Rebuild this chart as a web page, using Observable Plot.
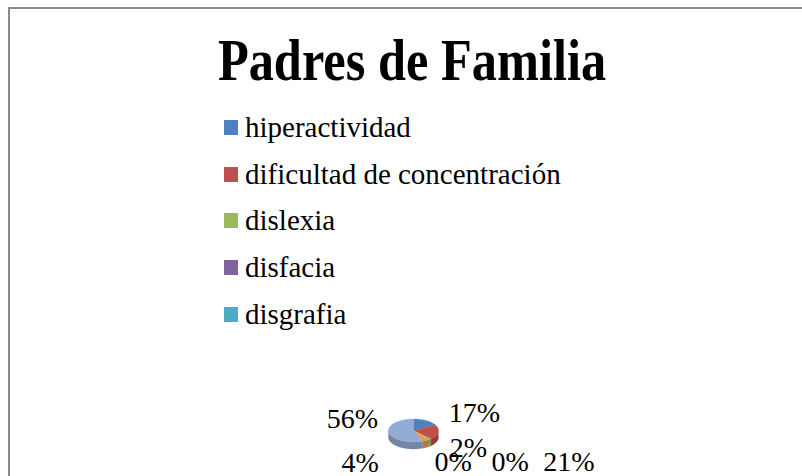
<!DOCTYPE html>
<html>
<head>
<meta charset="utf-8">
<script src="https://cdn.jsdelivr.net/npm/d3@7"></script>
<script src="https://cdn.jsdelivr.net/npm/@observablehq/plot@0.6"></script>
<style>
  html, body { margin: 0; padding: 0; background: #fff; }
  #chart { position: relative; width: 802px; height: 476px; overflow: hidden; background: #fff; font-family: "Liberation Serif", "DejaVu Serif", serif; color: #000; }
  #frame { position: absolute; left: 8px; top: 7px; width: 810px; height: 480px; border-left: 2px solid #8a8a8a; border-top: 2px solid #8a8a8a; box-sizing: border-box; }
  #title { position: absolute; left: 0; width: 824px; top: 30px; text-align: center; font-weight: bold; font-size: 60px; line-height: 60px; transform: scaleX(0.84); transform-origin: 412px 0; white-space: nowrap; }
  #legend { position: absolute; left: 224px; top: 104px; }
  .row { display: flex; align-items: center; height: 46.8px; font-size: 29px; line-height: 29px; white-space: nowrap; }
  .sw { width: 14px; height: 15px; margin-right: 7px; flex: none; }
  #pie { position: absolute; left: 300px; top: 380px; }
</style>
</head>
<body>
<div id="chart">
  <div id="frame"></div>
  <div id="title">Padres de Familia</div>
  <div id="legend"></div>
  <div id="pie"></div>
</div>
<script>
// ---- data ----
const categories = ["hiperactividad", "dificultad de concentración", "dislexia", "disfacia", "disgrafia", "otros", "ninguno"];
const values = [17, 21, 2, 0, 0, 4, 56];
const colors = ["#4F81BD", "#C0504D", "#9BBB59", "#8064A2", "#4BACC6", "#F79646", "#93ACD5"];
const legendCount = 5; // legend shows only the first five entries (rest cut off)
// label nudges (px) from the default outside-anchor of each slice
const labelNudgeX = [37, 109, 25, 12, 69, -76, -15];
const labelNudgeY = [4, 28, -2, 11, 11, 10, -16];

// ---- legend ----
const legend = document.getElementById("legend");
categories.slice(0, legendCount).forEach((c, i) => {
  const row = document.createElement("div");
  row.className = "row";
  const sw = document.createElement("span");
  sw.className = "sw";
  sw.style.background = colors[i];
  const t = document.createElement("span");
  t.textContent = c;
  row.appendChild(sw); row.appendChild(t);
  legend.appendChild(row);
});

// ---- pie geometry (3D tilted) ----
const rx = 25, ry = 11.5, depth = 7;
const arcs = d3.pie().sort(null)(values);
const tops = [], sides = [], labels = [];
arcs.forEach((a, i) => {
  const s = a.startAngle, e = a.endAngle;
  const n = Math.max(2, Math.ceil((e - s) / 0.03));
  if (e > s) {
    tops.push({id: i, x: 0, y: 0, c: colors[i]});
    for (let k = 0; k <= n; k++) {
      const t = s + (e - s) * k / n;
      tops.push({id: i, x: rx * Math.sin(t), y: -ry * Math.cos(t), c: colors[i]});
    }
    const fs = Math.max(s, Math.PI / 2), fe = Math.min(e, 3 * Math.PI / 2);
    if (fe > fs) {
      const m = Math.max(2, Math.ceil((fe - fs) / 0.03));
      const side = d3.color(colors[i]).darker(0.7).formatHex();
      const pts = [];
      for (let k = 0; k <= m; k++) { const t = fs + (fe - fs) * k / m; pts.push([rx * Math.sin(t), -ry * Math.cos(t)]); }
      for (let k = m; k >= 0; k--) { const t = fs + (fe - fs) * k / m; pts.push([rx * Math.sin(t), -ry * Math.cos(t) + depth]); }
      pts.forEach(p => sides.push({id: i, x: p[0], y: p[1], c: side}));
    }
  }
  const mid = (s + e) / 2;
  labels.push({
    text: values[i] + "%",
    x: (rx + 22) * Math.sin(mid) + labelNudgeX[i],
    y: -(ry + 14) * Math.cos(mid) + labelNudgeY[i]
  });
});

const W = 340, H = 96, cx = 113, cy = 50;
const plot = Plot.plot({
  width: W, height: H, margin: 0,
  x: {domain: [-cx, W - cx], range: [0, W], axis: null},
  y: {domain: [-cy, H - cy], range: [0, H], axis: null},
  color: {type: "identity"},
  style: {background: "transparent", overflow: "visible"},
  marks: [
    Plot.line(sides, {x: "x", y: "y", z: "id", fill: "c", stroke: "c", strokeWidth: 0.3, curve: "linear"}),
    Plot.line(tops, {x: "x", y: "y", z: "id", fill: "c", stroke: "c", strokeWidth: 0.3, curve: "linear"}),
    Plot.text(labels, {x: "x", y: "y", text: "text", fill: "#000", fontSize: 28, fontFamily: "Liberation Serif, serif"})
  ]
});
document.getElementById("pie").appendChild(plot);
</script>
</body>
</html>
